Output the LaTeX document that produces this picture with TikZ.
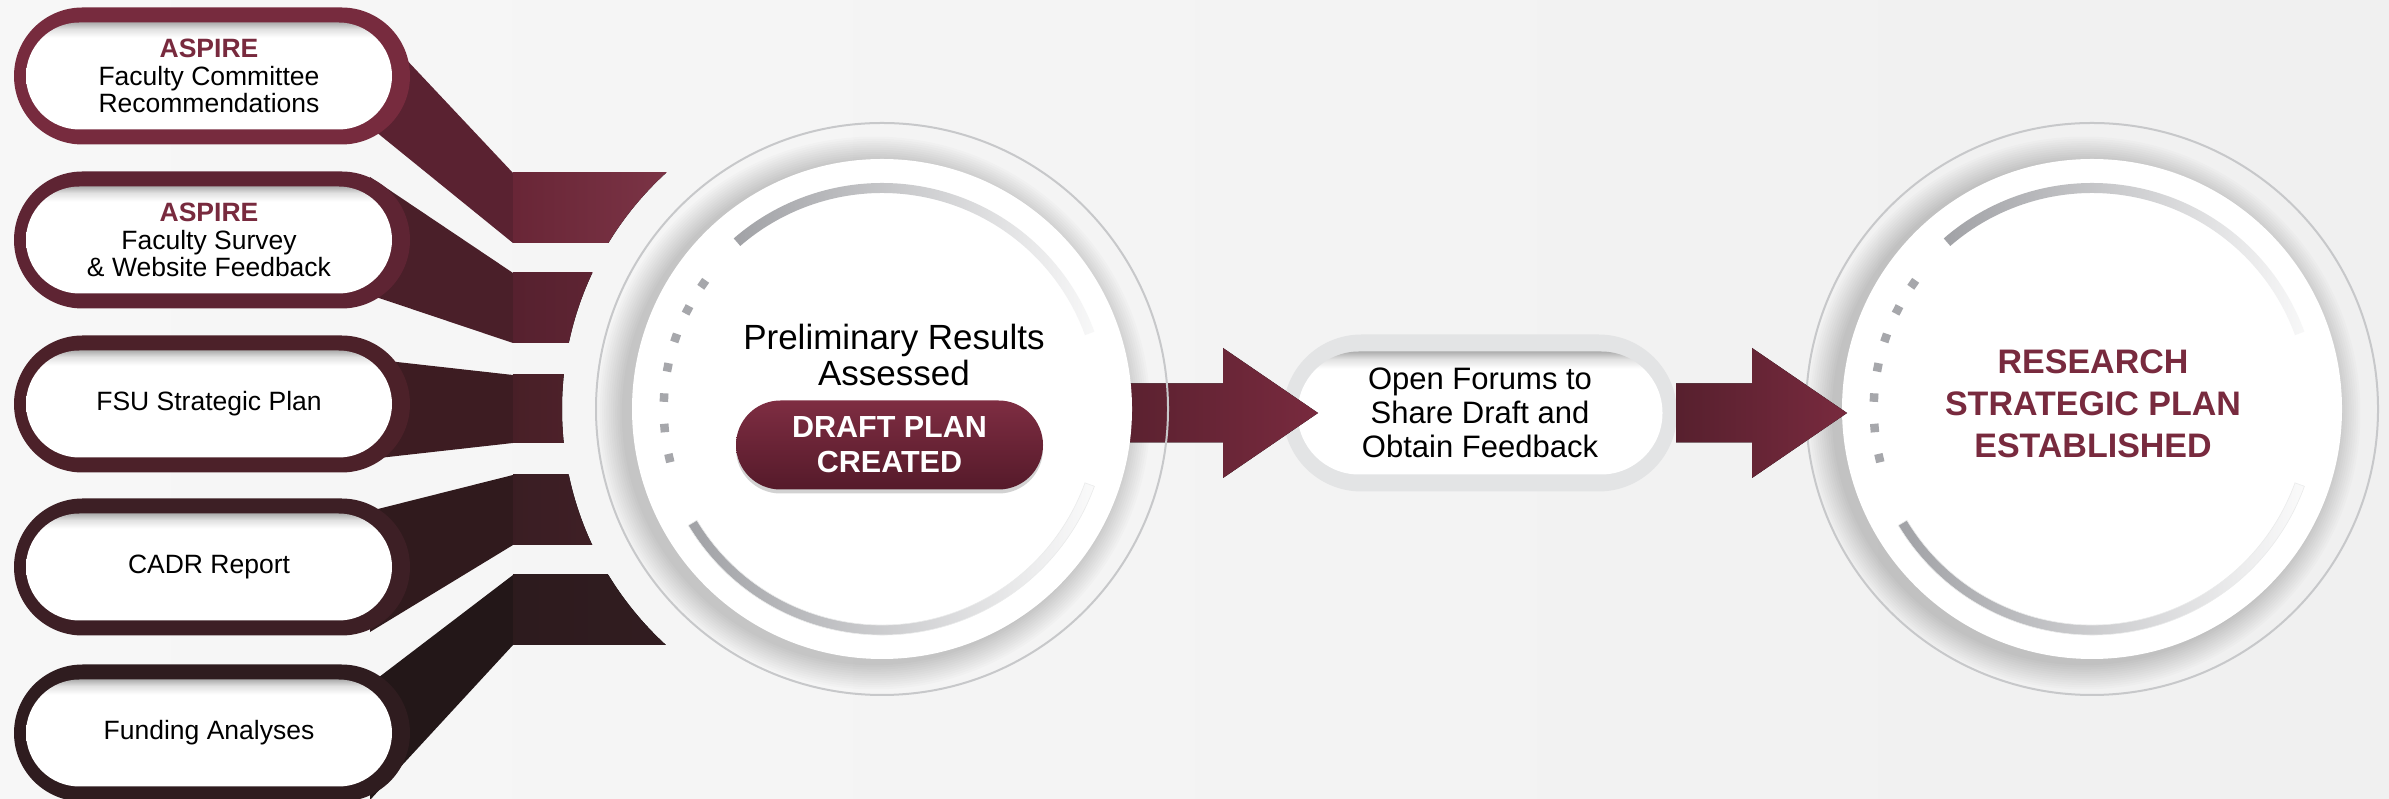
\documentclass[tikz,border=0pt]{standalone}
\usepackage{fontspec}
\setmainfont{Liberation Sans}
\usetikzlibrary{calc,shapes.misc,shadows}

\definecolor{maroon}{HTML}{782A3E}
\definecolor{bgleft}{HTML}{F7F7F7}
\definecolor{bgright}{HTML}{F0F0F0}
\definecolor{frameA}{HTML}{772B3E}
\definecolor{frameB}{HTML}{5E2433}
\definecolor{frameC}{HTML}{4C2129}
\definecolor{frameD}{HTML}{3D1F25}
\definecolor{frameE}{HTML}{2F1C1F}
\definecolor{feedA}{HTML}{5A2231}
\definecolor{feedB}{HTML}{4A1F29}
\definecolor{feedC}{HTML}{3D1C22}
\definecolor{feedD}{HTML}{301A1D}
\definecolor{feedE}{HTML}{231718}
\definecolor{arrowL}{HTML}{57202E}
\definecolor{ringline}{HTML}{C7C8CA}
\definecolor{arcgray}{HTML}{A1A2A6}
\definecolor{dotgray}{HTML}{A6A7AB}
\definecolor{forumgray}{HTML}{E3E4E5}
\definecolor{btntop}{HTML}{7E2D42}
\definecolor{btnbot}{HTML}{551A2A}

% white pill with a soft inner shadow along its top edge
\pgfdeclareverticalshading{insetshade}{100bp}{color(0bp)=(white); color(68bp)=(white); color(72bp)=(black!12); color(75bp)=(black!32); color(100bp)=(black!32)}

\tikzset{
  frame/.style={rounded rectangle, minimum width=396pt, minimum height=137pt, inner sep=0pt},
  pill/.style={rounded rectangle, shading=insetshade, shade, minimum width=366pt, minimum height=107pt,
    inner sep=0pt, align=center, font=\fontsize{26.5}{27.5}\selectfont},
  button/.style={rounded rectangle, minimum width=307pt, minimum height=89pt, inner sep=0pt,
    top color=btntop, bottom color=btnbot, text=white, align=center,
    font=\bfseries\fontsize{30.5}{35}\selectfont,
    drop shadow={shadow xshift=0pt, shadow yshift=-4pt, opacity=0.35}},
  blockarrow/.style={left color=arrowL, right color=maroon}
}

\begin{document}
\begin{tikzpicture}[x=1pt, y=1pt]
  \useasboundingbox (0,0) rectangle (2389,799);
  \clip (0,0) rectangle (2389,799);
  \fill[left color=bgleft, right color=bgright] (0,0) rectangle (2389,799);

  \coordinate (c1) at (882,390);
  \coordinate (c2) at (2092,390);

  % feeds from the five sources into the first circle
  \begin{scope}[even odd rule]
    \clip (0,0) rectangle (2389,799) (c1) circle (320);
    \fill[feedA] (370,778) -- (513,626) -- (513,556) -- (370,672) -- cycle;
    \fill[feedB] (370,622) -- (513,526) -- (513,456) -- (370,504) -- cycle;
    \fill[feedC] (370,440) -- (513,424) -- (513,356) -- (370,340) -- cycle;
    \fill[feedD] (370,288) -- (513,324) -- (513,254) -- (370,167) -- cycle;
    \fill[feedE] (370,115) -- (513,224) -- (513,154) -- (370,-1) -- cycle;
    \fill[left color=frameA!88!black, right color=frameA!95!white] (513,556) rectangle (690,626);
    \fill[left color=frameB!92!black, right color=frameB!90!frameA] (513,456) rectangle (620,526);
    \fill[left color=frameC!95!black, right color=frameC!80!frameB] (513,356) rectangle (600,424);
    \fill[left color=frameD!95!black, right color=frameD!80!frameC] (513,254) rectangle (620,324);
    \fill[left color=frameE!95!black, right color=frameE!75!frameD] (513,154) rectangle (690,224);
  \end{scope}

  % source boxes
  \node[frame, fill=frameA] (frame1) at (212,723) {};
  \node[pill] (src1) at (209,723) {{\bfseries\color{maroon}ASPIRE}\\Faculty Committee\\Recommendations};
  \node[frame, fill=frameB] (frame2) at (212,559) {};
  \node[pill] (src2) at (209,559) {{\bfseries\color{maroon}ASPIRE}\\Faculty Survey\\\& Website Feedback};
  \node[frame, fill=frameC] (frame3) at (212,395) {};
  \node[pill] (src3) at (209,395) {FSU Strategic Plan};
  \node[frame, fill=frameD] (frame4) at (212,232) {};
  \node[pill] (src4) at (209,232) {CADR Report};
  \node[frame, fill=frameE] (frame5) at (212,66) {};
  \node[pill] (src5) at (209,66) {Funding Analyses};

  % forum step
  \node[frame, fill=forumgray, minimum width=394pt, minimum height=157pt] (forumframe) at (1480,386) {};
  \node[pill, minimum width=365pt, minimum height=123pt, font=\fontsize{31}{34}\selectfont]
    (forum) at (1480,386) {Open Forums to\\Share Draft and\\Obtain Feedback};

  % soft shadows round the two discs
  \foreach \ctr in {c1,c2} {
    \foreach \i in {1,...,12}
      \fill[black, opacity=0.014] ($(\ctr)+(-8,-4)$) circle ({250+2.2*\i});
  }

  % first block arrow
  \coordinate (tail1) at (1100,386);
  \coordinate (tip1) at (1318,386);
  \fill[blockarrow] ($(tail1)+(0,29.5)$) -- ($(tip1)+(-95,29.5)$) -- ($(tip1)+(-95,65)$) -- (tip1)
    -- ($(tip1)+(-95,-65)$) -- ($(tip1)+(-95,-29.5)$) -- ($(tail1)+(0,-29.5)$) -- cycle;

  % discs with their arcs and dotted marks
  \foreach \ctr in {c1,c2} {
    \draw[ringline, line width=2pt] (\ctr) circle (286);
    \fill[white] (\ctr) circle (250);
    \shade[left color=arcgray, right color=arcgray!8]
      ($(\ctr)+(131:226)$) arc[start angle=131, end angle=20, radius=226]
      -- ($(\ctr)+(20:216)$) arc[start angle=20, end angle=131, radius=216] -- cycle;
    \shadedraw[left color=arcgray, right color=arcgray!5, draw=arcgray!22, line width=0.6pt]
      ($(\ctr)+(211:226)$) arc[start angle=211, end angle=340, radius=226]
      -- ($(\ctr)+(340:216)$) arc[start angle=340, end angle=211, radius=216] -- cycle;
    \foreach \a in {145,153,...,193}
      \fill[dotgray, shift={(\ctr)}, rotate=\a] (214,-4.25) rectangle (222.5,4.25);
  }

  % second block arrow
  \coordinate (tail2) at (1676,386);
  \coordinate (tip2) at (1847,386);
  \fill[blockarrow] ($(tail2)+(0,29.5)$) -- ($(tip2)+(-95,29.5)$) -- ($(tip2)+(-95,65)$) -- (tip2)
    -- ($(tip2)+(-95,-65)$) -- ($(tip2)+(-95,-29.5)$) -- ($(tail2)+(0,-29.5)$) -- cycle;

  % texts in the discs
  \node[font=\fontsize{35}{36}\selectfont, align=center] (prelim) at (894,444) {Preliminary Results\\Assessed};
  \node[button] (draft) at (889.5,354) {DRAFT PLAN\\CREATED};
  \node[font=\bfseries\fontsize{34}{42}\selectfont, text=maroon, align=center] (result) at (2093,395)
    {RESEARCH\\STRATEGIC PLAN\\ESTABLISHED};
\end{tikzpicture}
\end{document}
